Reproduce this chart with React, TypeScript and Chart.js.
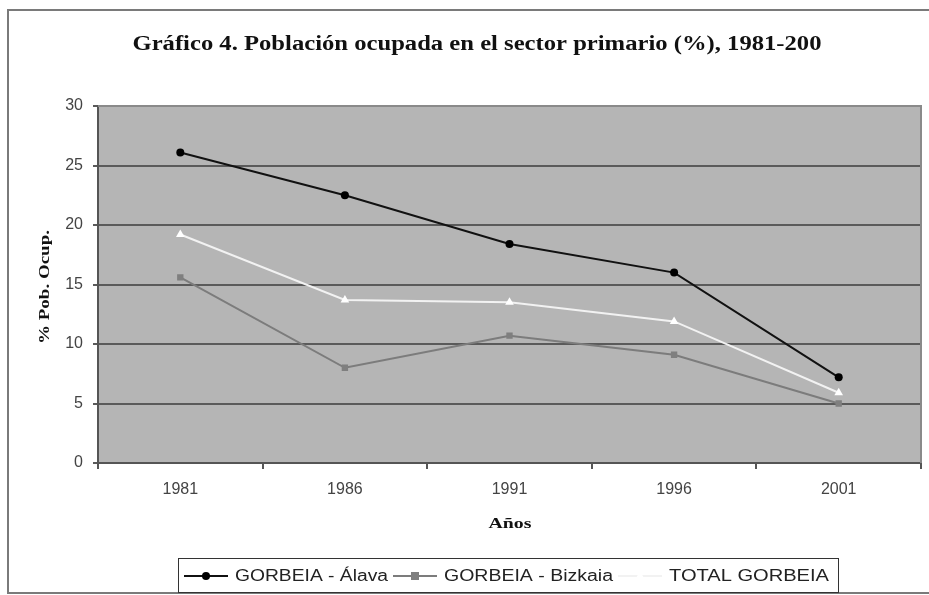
import React, { useEffect, useRef } from "react";
import { Chart, registerables } from "chart.js";

Chart.register(...registerables);

const categories = ["1981", "1986", "1991", "1996", "2001"];
const alava = [26.1, 22.5, 18.4, 16.0, 7.2];
const bizkaia = [15.6, 8.0, 10.7, 9.1, 5.0];
const total = [19.2, 13.7, 13.5, 11.9, 5.9];
const seriesLabels = ["GORBEIA - Álava", "GORBEIA - Bizkaia", "TOTAL GORBEIA"];
const titleText = "Gráfico 4. Población ocupada en el sector primario (%), 1981-200";
const yTitle = "% Pob. Ocup.";
const xTitle = "Años";

const W = 929;
const H = 595;

function drawMarker(ctx: CanvasRenderingContext2D, style: string, x: number, y: number, color: string) {
  ctx.save();
  ctx.fillStyle = color;
  ctx.beginPath();
  if (style === "circle") {
    ctx.arc(x, y, 4, 0, Math.PI * 2);
  } else if (style === "rect") {
    ctx.rect(x - 4, y - 4, 8, 8);
  } else {
    ctx.moveTo(x, y - 5);
    ctx.lineTo(x + 5, y + 4);
    ctx.lineTo(x - 5, y + 4);
    ctx.closePath();
  }
  ctx.fill();
  ctx.restore();
}

function fitText(ctx: CanvasRenderingContext2D, text: string, x: number, y: number, width: number, align = "center") {
  const m = ctx.measureText(text).width;
  const s = width / m;
  ctx.save();
  ctx.translate(x, y);
  ctx.scale(s, 1);
  ctx.textAlign = align as CanvasTextAlign;
  ctx.textBaseline = "middle";
  ctx.fillText(text, 0, 0);
  ctx.restore();
}

const legendTextWidths = [153, 169, 160];

const decorPlugin = {
  id: "decor",
  beforeDraw(chart: any) {
    const { ctx, chartArea } = chart;
    ctx.save();
    ctx.fillStyle = "#ffffff";
    ctx.fillRect(0, 0, W, H);
    ctx.fillStyle = "#b5b5b5";
    ctx.fillRect(chartArea.left, chartArea.top, chartArea.right - chartArea.left, chartArea.bottom - chartArea.top);
    ctx.restore();
  },
  afterDraw(chart: any) {
    const { ctx, chartArea } = chart;
    ctx.save();
    ctx.strokeStyle = "#8a8a8a";
    ctx.lineWidth = 2;
    ctx.beginPath();
    ctx.moveTo(chartArea.left, chartArea.top);
    ctx.lineTo(chartArea.right, chartArea.top);
    ctx.lineTo(chartArea.right, chartArea.bottom);
    ctx.stroke();
    ctx.strokeStyle = "#7a7a7a";
    ctx.lineWidth = 2;
    ctx.strokeRect(8, 10, W + 10, 583);

    ctx.fillStyle = "#111";
    ctx.font = "bold 20px 'Liberation Serif', 'DejaVu Serif', serif";
    fitText(ctx, titleText, 477, 45, 689);

    ctx.save();
    ctx.translate(45, 287);
    ctx.rotate(-Math.PI / 2);
    ctx.font = "bold 14px 'Liberation Serif', serif";
    fitText(ctx, yTitle, 0, 0, 114);
    ctx.restore();

    ctx.font = "bold 15px 'Liberation Serif', serif";
    fitText(ctx, xTitle, 510, 524, 43);

    ctx.strokeStyle = "#333";
    ctx.lineWidth = 1;
    ctx.strokeRect(178.5, 558.5, 660, 34);
    ctx.font = "16px 'Liberation Sans', Arial, sans-serif";
    const cy = 576;
    const items = chart.data.datasets;
    let x = 184;
    items.forEach((ds: any, i: number) => {
      ctx.strokeStyle = ds.borderColor;
      ctx.lineWidth = 2;
      ctx.beginPath();
      ctx.moveTo(x, cy);
      ctx.lineTo(x + 44, cy);
      ctx.stroke();
      drawMarker(ctx, ds.pointStyle, x + 22, cy, ds.pointBackgroundColor);
      ctx.fillStyle = "#222";
      const tx = x + 51;
      fitText(ctx, seriesLabels[i], tx, cy + 1, legendTextWidths[i], "left");
      x = tx + legendTextWidths[i] + 5;
    });
    ctx.restore();
  },
};

export default function App() {
  const ref = useRef<HTMLCanvasElement | null>(null);
  useEffect(() => {
    if (!ref.current) return;
    const chart = new Chart(ref.current, {
      type: "line",
      data: {
        labels: categories,
        datasets: [
          {
            label: seriesLabels[0],
            data: alava,
            borderColor: "#111111",
            borderWidth: 2,
            pointStyle: "circle",
            pointRadius: 4,
            pointBackgroundColor: "#000000",
            pointBorderColor: "#000000",
            pointBorderWidth: 0,
          },
          {
            label: seriesLabels[1],
            data: bizkaia,
            borderColor: "#7c7c7c",
            borderWidth: 2,
            pointStyle: "rect",
            pointRadius: 4.5,
            pointBackgroundColor: "#7f7f7f",
            pointBorderColor: "#7f7f7f",
            pointBorderWidth: 0,
          },
          {
            label: seriesLabels[2],
            data: total,
            borderColor: "#f2f2f2",
            borderWidth: 2,
            pointStyle: "triangle",
            pointRadius: 5,
            pointBackgroundColor: "#ffffff",
            pointBorderColor: "#ffffff",
            pointBorderWidth: 0,
          },
        ],
      },
      options: {
        responsive: false,
        animation: false,
        layout: { padding: { left: 58, right: 8, top: 106, bottom: 0 } },
        plugins: {
          legend: { display: false },
          title: { display: false },
          tooltip: { enabled: false },
        },
        scales: {
          x: {
            offset: true,
            grid: {
              offset: true,
              drawOnChartArea: false,
              drawTicks: true,
              tickLength: 6,
              color: "#555",
              lineWidth: 2,
            },
            border: { display: true, color: "#555", width: 2 },
            ticks: {
              color: "#444",
              padding: 11,
              font: { family: "'Liberation Sans', Arial, sans-serif", size: 16 },
            },
            afterFit: (s: any) => {
              s.height = 132;
            },
          },
          y: {
            min: 0,
            max: 30,
            ticks: {
              stepSize: 5,
              color: "#444",
              padding: 10,
              font: { family: "'Liberation Sans', Arial, sans-serif", size: 16 },
            },
            grid: {
              color: "#5a5a5a",
              lineWidth: 2,
              tickLength: 5,
            },
            border: { display: true, color: "#555", width: 2 },
            afterFit: (s: any) => {
              s.width = 40;
            },
          },
        },
      },
      plugins: [decorPlugin],
    });
    return () => chart.destroy();
  }, []);
  return (
    <div style={{ position: "absolute", left: 0, top: 0, width: W, height: H }}>
      <canvas ref={ref} width={W} height={H} style={{ width: W, height: H }} />
    </div>
  );
}
